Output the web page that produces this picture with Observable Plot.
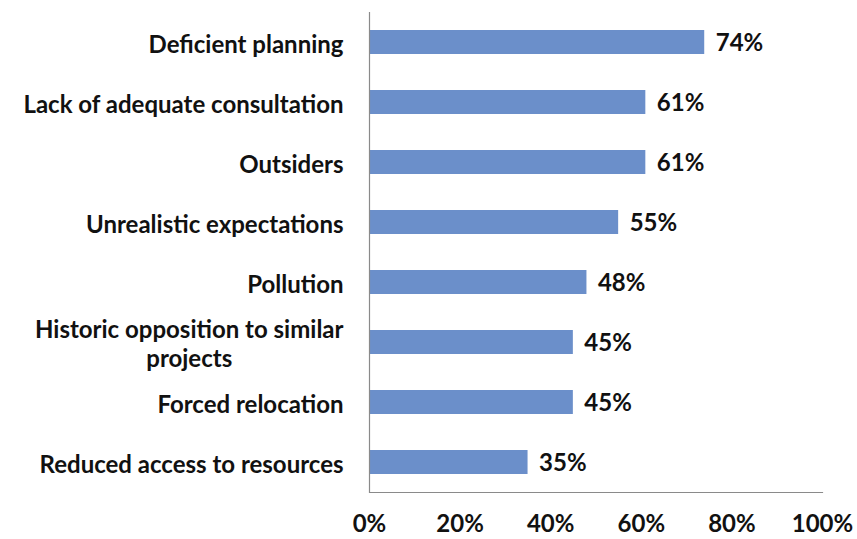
<!DOCTYPE html>
<html>
<head>
<meta charset="utf-8">
<script src="https://cdn.jsdelivr.net/npm/d3@7"></script>
<script src="https://cdn.jsdelivr.net/npm/@observablehq/plot@0.6"></script>
<style>
  html, body { margin: 0; padding: 0; background: #fff; }
  #chart svg { display: block; }
</style>
</head>
<body>
<div id="chart"></div>
<script>
const categories = [
  "Deficient planning",
  "Lack of adequate consultation",
  "Outsiders",
  "Unrealistic expectations",
  "Pollution",
  "Historic opposition to similar\nprojects",
  "Forced relocation",
  "Reduced access to resources"
];
const values = [74, 61, 61, 55, 48, 45, 45, 35];
const xTicks = [0, 20, 40, 60, 80, 100];

const data = categories.map((c, i) => ({category: c, value: values[i]}));
const font = "Lato, 'Open Sans', sans-serif";

const chart = Plot.plot({
  width: 857,
  height: 539,
  marginLeft: 369,
  marginRight: 35,
  marginTop: 12,
  marginBottom: 47,
  style: {fontFamily: font, fontSize: "24px", fontWeight: "bold", color: "#111", background: "#fff"},
  x: {domain: [0, 100], ticks: xTicks, tickFormat: d => d + "%"},
  y: {domain: categories, paddingInner: 0.6, paddingOuter: 0.3},
  marks: [
    Plot.barX(data, {x: "value", y: "category", fill: "#6b8fca"}),
    Plot.text(data, {x: "value", y: "category", text: d => d.value + "%", textAnchor: "start", dx: 11, dy: 1, fontSize: 24, fontWeight: "bold", fill: "#111"}),
    Plot.ruleX([0], {stroke: "#8a8a8a", strokeWidth: 1.2}),
    Plot.frame({anchor: "bottom", stroke: "#8a8a8a", strokeWidth: 1.2}),
    Plot.axisX({ticks: xTicks, tickFormat: d => d + "%", tickSize: 0, tickPadding: 22, fontSize: 24, fontWeight: "bold", label: null}),
    Plot.axisY({tickSize: 0, tickPadding: 26, fontSize: 24, fontWeight: "bold", label: null, lineHeight: 1.2, dy: 1})
  ]
});
document.getElementById("chart").appendChild(chart);

// center-align wrapped (multi-line) category labels, as in the original
chart.querySelectorAll("g[aria-label='y-axis tick label'] text").forEach(t => {
  const spans = t.querySelectorAll("tspan");
  if (spans.length > 1) {
    let w = 0;
    spans.forEach(s => { w = Math.max(w, s.getComputedTextLength()); });
    t.setAttribute("text-anchor", "middle");
    spans.forEach(s => s.setAttribute("x", -w / 2));
  }
});
</script>
</body>
</html>
